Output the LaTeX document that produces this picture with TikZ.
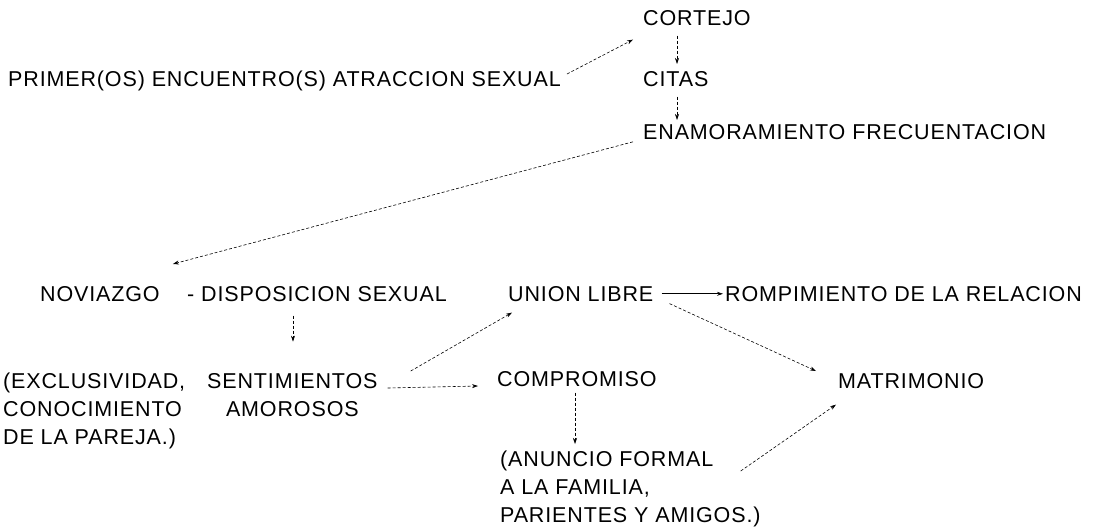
\documentclass[tikz,border=0pt]{standalone}
\usepackage{fontspec}
\setmainfont{Liberation Sans}[LetterSpace=4]
\usetikzlibrary{positioning,arrows.meta}

\tikzset{
	lbl/.style={anchor=north west, inner sep=0pt, font=\fontsize{21.5}{28}\selectfont, align=left},
	flow/.style={-{Stealth[length=6pt,width=4pt]}, line width=0.6pt, dash pattern=on 3pt off 2pt},
	solidflow/.style={-{Stealth[length=6pt,width=4pt]}, line width=0.7pt}
}

\begin{document}
\begin{tikzpicture}[x=1pt,y=-1pt]
	\useasboundingbox (0,0) rectangle (1095,528);

	\node[lbl] (cortejo) at (643,10) {CORTEJO};
	\node[lbl] (prim) at (8,71) {PRIMER(OS) ENCUENTRO(S) ATRACCION SEXUAL};
	\node[lbl] (citas) at (643,71) {CITAS};
	\node[lbl] (enam) at (643,124) {ENAMORAMIENTO FRECUENTACION};

	\node[lbl] (nov) at (40,286) {NOVIAZGO};
	\node[lbl] (dis) at (187,286) {- DISPOSICION SEXUAL};
	\node[lbl] (union) at (508,286) {UNION LIBRE};
	\node[lbl] (romp) at (725,286) {ROMPIMIENTO DE LA RELACION};

	\node[lbl] (exclu) at (3,373) {(EXCLUSIVIDAD,\\CONOCIMIENTO\\DE LA PAREJA.)};
	\node[lbl, align=center] (sent) at (207,373) {SENTIMIENTOS\\AMOROSOS};
	\node[lbl] (comp) at (497,371) {COMPROMISO};
	\node[lbl] (matr) at (838,373) {MATRIMONIO};
	\node[lbl] (anun) at (500,451) {(ANUNCIO FORMAL\\A LA FAMILIA,\\PARIENTES Y AMIGOS.)};

	% upper chain
	\draw[flow] ([shift={(6,3)}]prim.north east) -- ([shift={(-10,14)}]cortejo.south west);
	\draw[flow] ([shift={(34,10)}]cortejo.south west) -- ([shift={(34,-7)}]citas.north west);
	\draw[flow] ([shift={(34,10)}]citas.south west) -- ([shift={(34,-4)}]enam.north west);
	\draw[flow] ([shift={(-10,10)}]enam.west) -- ([shift={(13,-22)}]nov.north east);

	% lower part
	\draw[flow] ([shift={(-24,14)}]dis.south) -- ([shift={(-24,40)}]dis.south);
	\draw[solidflow] ([xshift=8pt]union.east) -- ([xshift=-2pt]romp.west);
	\draw[flow] ([shift={(16,2)}]union.south east) -- ([shift={(-22,-2)}]matr.north west);
	\draw[flow] ([shift={(33,-2)}]sent.north east) -- ([shift={(4,11)}]union.south west);
	\draw[flow] ([shift={(10,15)}]sent.north east) -- ([shift={(-19,15)}]comp.north west);
	\draw[flow] ([shift={(78,6)}]comp.south west) -- ([shift={(75,-7)}]anun.north west);
	\draw[flow] ([shift={(-20,20)}]anun.north east) -- ([shift={(-2,16)}]matr.south west);
\end{tikzpicture}
\end{document}
